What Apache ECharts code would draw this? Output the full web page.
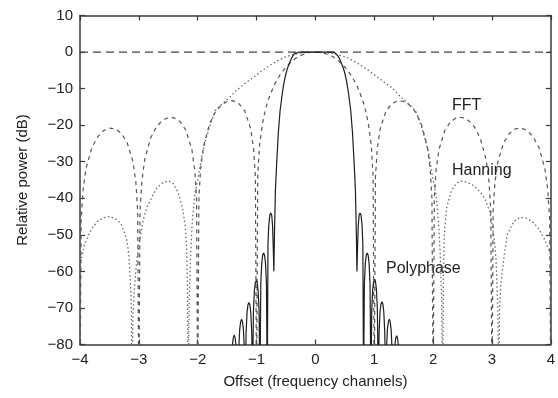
<!DOCTYPE html>
<html>
<head>
<meta charset="utf-8">
<script src="https://cdn.jsdelivr.net/npm/echarts@6/dist/echarts.min.js"></script>
<style>
  html, body { margin: 0; padding: 0; background: #fff; }
  #chart { width: 558px; height: 398px; }
</style>
</head>
<body>
<div id="chart"></div>
<script>
// Axis ticks
const xTicks = [-4, -3, -2, -1, 0, 1, 2, 3, 4];
const yTicks = [-80, -70, -60, -50, -40, -30, -20, -10, 0, 10];

// 0 dB reference line
const refLine = [[-4, 0], [4, 0]];

// FFT channel response, [offset, dB]
const fftResponse = [
  [-4, -95], [-3.98, -46], [-3.95, -38], [-3.9, -32], [-3.8, -26.2], [-3.7, -23.2], [-3.6, -21.5],
  [-3.5, -20.8], [-3.4, -21], [-3.3, -22.2], [-3.2, -24.7], [-3.1, -30], [-3.05, -35.7], [-3.02, -43.6], [-3, -95],
  [-2.98, -43.5], [-2.95, -35.5], [-2.9, -29.4], [-2.8, -23.5], [-2.7, -20.4], [-2.6, -18.7], [-2.5, -17.9],
  [-2.4, -18], [-2.3, -19], [-2.2, -21.4], [-2.1, -26.6], [-2.05, -32.3], [-2.02, -40.1], [-2, -95],
  [-1.98, -39.9], [-1.95, -31.9], [-1.9, -25.7], [-1.8, -19.7], [-1.7, -16.4], [-1.6, -14.5], [-1.5, -13.5],
  [-1.4, -13.3], [-1.3, -14.1], [-1.2, -16.1], [-1.1, -21], [-1.05, -26.5], [-1.02, -34.2], [-1, -95],
  [-0.98, -33.8], [-0.95, -25.6], [-0.9, -19.6], [-0.85, -15.8], [-0.8, -13], [-0.7, -9], [-0.6, -6.2],
  [-0.5, -4.1], [-0.4, -2.5], [-0.3, -1.3], [-0.2, -0.6], [-0.1, -0.1], [0, 0],
  [0.1, -0.1], [0.2, -0.6], [0.3, -1.3], [0.4, -2.5], [0.5, -4.1], [0.6, -6.2], [0.7, -9], [0.8, -13],
  [0.85, -15.8], [0.9, -19.6], [0.95, -25.6], [0.98, -33.8], [1, -95],
  [1.02, -34.2], [1.05, -26.5], [1.1, -21], [1.2, -16.1], [1.3, -14.1], [1.4, -13.3], [1.5, -13.5],
  [1.6, -14.5], [1.7, -16.4], [1.8, -19.7], [1.9, -25.7], [1.95, -31.9], [1.98, -39.9], [2, -95],
  [2.02, -40.1], [2.05, -32.3], [2.1, -26.6], [2.2, -21.4], [2.3, -19], [2.4, -17.9], [2.5, -17.9],
  [2.6, -18.7], [2.7, -20.4], [2.8, -23.5], [2.9, -29.4], [2.95, -35.5], [2.98, -43.5], [3, -95],
  [3.02, -43.6], [3.05, -35.7], [3.1, -30], [3.2, -24.7], [3.3, -22.2], [3.4, -21], [3.5, -20.8],
  [3.6, -21.5], [3.7, -23.2], [3.8, -26.2], [3.9, -32], [3.95, -38], [3.98, -46], [4, -95]
];

// Hanning-windowed FFT channel response, [offset, dB]
const hanningResponse = [
  [-4, -58.5], [-3.98, -57], [-3.93, -53], [-3.87, -50.6], [-3.8, -48.3], [-3.7, -46.3], [-3.6, -45.3],
  [-3.5, -45], [-3.4, -45.6], [-3.31, -46.8], [-3.25, -49], [-3.2, -51.8], [-3.17, -55.5], [-3.15, -61],
  [-3.13, -68], [-3.115, -92],
  [-3.1, -72], [-3.08, -66], [-3.05, -59.5], [-3.02, -55], [-2.98, -50.8], [-2.92, -45.6], [-2.86, -42.3],
  [-2.8, -40.4], [-2.7, -37.3], [-2.6, -35.8], [-2.5, -35.2], [-2.42, -35.9], [-2.36, -37.5], [-2.3, -40],
  [-2.25, -43.4], [-2.21, -48], [-2.19, -53], [-2.175, -62], [-2.16, -92],
  [-2.145, -68], [-2.12, -55], [-2.09, -46], [-2.05, -39], [-2, -35], [-1.93, -28.6], [-1.865, -24],
  [-1.78, -19.5], [-1.7, -16], [-1.585, -14.2], [-1.5, -13], [-1.42, -11.8], [-1.37, -10.9], [-1.2, -8.6],
  [-1.03, -6.6], [-0.9, -5], [-0.75, -3.4], [-0.53, -1.4], [-0.3, -0.4], [-0.15, -0.1], [0, 0],
  [0.15, -0.1], [0.3, -0.4], [0.53, -1.4], [0.75, -3.4], [0.9, -5], [1.03, -6.6], [1.2, -8.6], [1.31, -9.9],
  [1.42, -11.8], [1.5, -13], [1.585, -14.2], [1.7, -16], [1.78, -19.4], [1.865, -24], [1.93, -28],
  [2, -35], [2.05, -39], [2.09, -46], [2.12, -55], [2.145, -68], [2.16, -92],
  [2.175, -62], [2.19, -50], [2.23, -42.6], [2.31, -38], [2.4, -35.8], [2.48, -35.3], [2.58, -35.6],
  [2.705, -36.7], [2.8, -38.3], [2.87, -39.9], [2.96, -43.5], [3.01, -48], [3.05, -53], [3.07, -57],
  [3.1, -70.8], [3.115, -92],
  [3.13, -70], [3.15, -63.6], [3.21, -55.4], [3.26, -49.9], [3.375, -46.3], [3.48, -45.2], [3.6, -45.5],
  [3.71, -46.7], [3.8, -48.5], [3.88, -50.8], [3.95, -53.5], [4, -55.8]
];

// Polyphase filter bank channel response, [offset, dB]
const polyphaseResponse = [
  [-1.445, -92], [-1.428, -86], [-1.412, -80.5], [-1.396, -78.2], [-1.38, -77.4], [-1.364, -78.2],
  [-1.348, -80.5], [-1.332, -86], [-1.318, -92],
  [-1.303, -81.5], [-1.287, -76], [-1.271, -73.8], [-1.255, -73.1], [-1.239, -73.8], [-1.223, -76],
  [-1.207, -81.5], [-1.193, -92],
  [-1.178, -76.8], [-1.162, -71.3], [-1.146, -69.1], [-1.13, -68.5], [-1.114, -69.1], [-1.098, -71.3],
  [-1.082, -76.8], [-1.068, -92],
  [-1.053, -70.8], [-1.037, -65.3], [-1.021, -63.1], [-1.005, -62.5], [-0.989, -63.1], [-0.973, -65.3],
  [-0.957, -70.8], [-0.943, -92],
  [-0.928, -63.4], [-0.912, -57.8], [-0.896, -55.6], [-0.88, -55], [-0.864, -55.6], [-0.848, -57.8],
  [-0.832, -63.4], [-0.818, -92],
  [-0.806, -52.5], [-0.792, -47.3], [-0.775, -44.6], [-0.758, -44], [-0.742, -44.7], [-0.728, -47.5],
  [-0.718, -52.5], [-0.706, -60],
  [-0.695, -49], [-0.68, -38], [-0.66, -31], [-0.63, -22], [-0.6, -16], [-0.56, -11], [-0.53, -8],
  [-0.5, -5.8], [-0.47, -4.2], [-0.44, -3], [-0.415, -2], [-0.385, -1.1], [-0.36, -0.5], [-0.33, -0.2],
  [-0.28, 0], [0, 0],
  [0.28, 0], [0.33, -0.2], [0.36, -0.5], [0.385, -1.1], [0.415, -2], [0.44, -3], [0.47, -4.2], [0.5, -5.8],
  [0.53, -8], [0.56, -11], [0.6, -16], [0.63, -22], [0.66, -31], [0.68, -38], [0.695, -49], [0.706, -60],
  [0.718, -52.5], [0.728, -47.5], [0.742, -44.7], [0.758, -44], [0.775, -44.6], [0.792, -47.3],
  [0.806, -52.5], [0.818, -92],
  [0.832, -63.4], [0.848, -57.8], [0.864, -55.6], [0.88, -55], [0.896, -55.6], [0.912, -57.8],
  [0.928, -63.4], [0.943, -92],
  [0.957, -70.5], [0.973, -65], [0.989, -62.8], [1.005, -62.2], [1.021, -62.8], [1.037, -65],
  [1.053, -70.5], [1.068, -92],
  [1.082, -76.6], [1.098, -71.1], [1.114, -68.9], [1.13, -68.3], [1.146, -68.9], [1.162, -71.1],
  [1.178, -76.6], [1.193, -92],
  [1.207, -81.5], [1.223, -76], [1.239, -73.8], [1.255, -73.1], [1.271, -73.8], [1.287, -76],
  [1.303, -81.5], [1.318, -92],
  [1.332, -86], [1.348, -80.7], [1.364, -78.3], [1.38, -77.6], [1.396, -78.3], [1.412, -80.7],
  [1.428, -86], [1.445, -92]
];

// Curve annotations
const curveLabels = ['FFT', 'Hanning', 'Polyphase'];

const FONT = '"Liberation Sans", Arial, Helvetica, sans-serif';
const INK = '#222';
const minus = v => String(v).replace('-', '\u2212');

const chart = echarts.init(document.getElementById('chart'), null, { renderer: 'canvas' });

const axisLine = { show: true, onZero: false, lineStyle: { color: '#3a3a3a', width: 1.5 } };
const tickIn = { show: true, inside: true, length: 5, lineStyle: { color: '#3a3a3a', width: 1.2 } };

const xBase = { type: 'value', min: xTicks[0], max: xTicks[xTicks.length - 1], interval: 1,
  splitLine: { show: false }, axisLine, axisTick: tickIn };
const yBase = { type: 'value', min: yTicks[0], max: yTicks[yTicks.length - 1], interval: 10,
  splitLine: { show: false }, axisLine, axisTick: tickIn };

chart.setOption({
  animation: false,
  backgroundColor: '#fff',
  grid: { left: 80, top: 15.5, width: 477.5, height: 329 },
  xAxis: [
    Object.assign({}, xBase, {
      position: 'bottom',
      name: 'Offset (frequency channels)', nameLocation: 'middle', nameGap: 30,
      nameTextStyle: { fontFamily: FONT, fontSize: 15, color: INK },
      axisLabel: { margin: 8, fontFamily: FONT, fontSize: 15, color: INK, formatter: minus }
    }),
    Object.assign({}, xBase, { position: 'top', axisLabel: { show: false } })
  ],
  yAxis: [
    Object.assign({}, yBase, {
      position: 'left',
      name: 'Relative power (dB)', nameLocation: 'middle', nameGap: 50,
      nameTextStyle: { fontFamily: FONT, fontSize: 15, color: INK },
      axisLabel: { margin: 7, fontFamily: FONT, fontSize: 15, color: INK, formatter: minus }
    }),
    Object.assign({}, yBase, { position: 'right', axisLabel: { show: false } })
  ],
  series: [
    { name: 'ref', type: 'line', data: refLine, showSymbol: false, silent: true,
      lineStyle: { color: '#444', width: 1.3, type: [8, 5] } },
    { name: 'FFT', type: 'line', data: fftResponse, showSymbol: false, clip: true,
      lineStyle: { color: '#555', width: 1.2, type: [4, 4] } },
    { name: 'Hanning', type: 'line', data: hanningResponse, showSymbol: false, clip: true,
      lineStyle: { color: '#6a6a6a', width: 1.3, type: [1.5, 2.5] } },
    { name: 'Polyphase', type: 'line', data: polyphaseResponse, showSymbol: false, clip: true,
      lineStyle: { color: '#1e1e1e', width: 1.2 } }
  ],
  graphic: [
    { type: 'text', left: 452, top: 98, style: { text: curveLabels[0], font: '16px ' + FONT, fill: INK } },
    { type: 'text', left: 452, top: 163, style: { text: curveLabels[1], font: '16px ' + FONT, fill: INK } },
    { type: 'text', left: 386, top: 261, style: { text: curveLabels[2], font: '16px ' + FONT, fill: INK } }
  ]
});
</script>
</body>
</html>
